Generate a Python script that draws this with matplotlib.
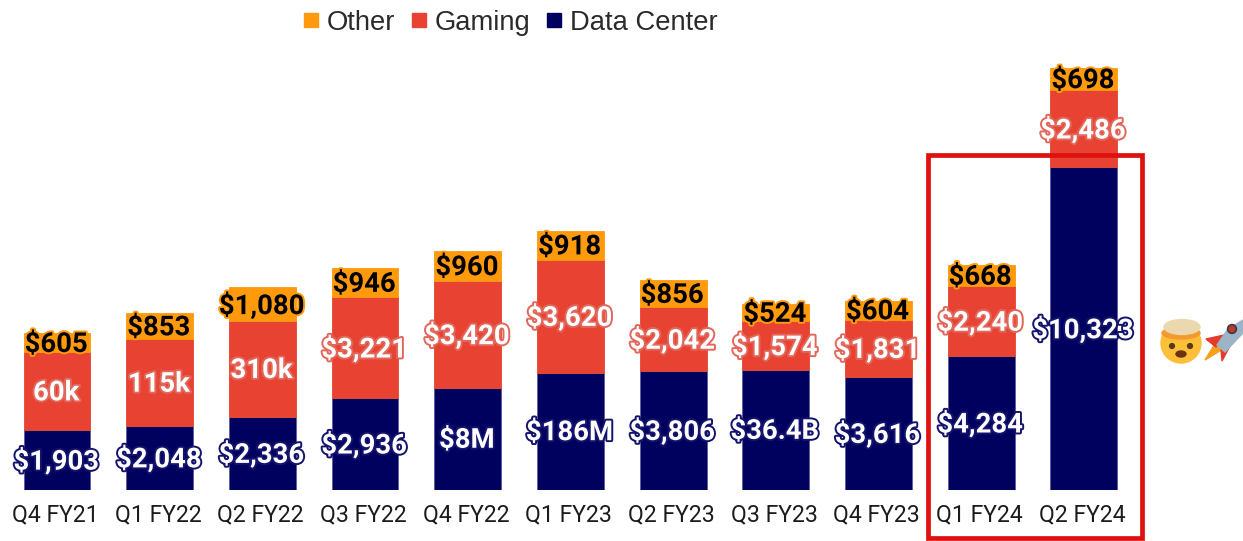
import matplotlib
matplotlib.use("Agg")
import matplotlib.pyplot as plt
import matplotlib.patheffects as pe
from matplotlib.patches import Rectangle, Circle, Polygon, Ellipse
from matplotlib.lines import Line2D
from matplotlib.transforms import Affine2D, ScaledTranslation

quarters = ["Q4 FY21", "Q1 FY22", "Q2 FY22", "Q3 FY22", "Q4 FY22", "Q1 FY23",
            "Q2 FY23", "Q3 FY23", "Q4 FY23", "Q1 FY24", "Q2 FY24"]
data_center = [1903, 2048, 2336, 2936, 3263, 3750, 3806, 3833, 3616, 4284, 10323]
gaming = [2495, 2760, 3061, 3221, 3420, 3620, 2042, 1574, 1831, 2240, 2486]
other = [605, 853, 1080, 946, 960, 918, 856, 524, 604, 668, 698]
dc_labels = ["$1,903", "$2,048", "$2,336", "$2,936", "$8M", "$186M", "$3,806", "$36.4B",
             "$3,616", "$4,284", "$10,323"]
gaming_labels = ["60k", "115k", "310k", "$3,221", "$3,420", "$3,620", "$2,042", "$1,574",
                 "$1,831", "$2,240", "$2,486"]
other_labels = ["$605", "$853", "$1,080", "$946", "$960", "$918", "$856", "$524", "$604",
                "$668", "$698"]

NAVY = "#00005F"
RED = "#E84332"
ORANGE = "#FF9A0D"
W, H = 1243, 541

fig = plt.figure(figsize=(W / 100, H / 100), dpi=100, facecolor="white")
ax = fig.add_axes([0, (H - 489.5) / H, 1, 489.5 / H])
ax.set_xlim(-0.556, 11.55)
ax.set_ylim(0, 15690)
for s in ax.spines.values():
    s.set_visible(False)
ax.yaxis.set_visible(False)
ax.patch.set_alpha(0)

x = list(range(len(quarters)))
bottom2 = [a + b for a, b in zip(data_center, gaming)]
edge = dict(width=0.65, linewidth=0.6)
b1 = ax.bar(x, data_center, color=NAVY, edgecolor="#5a5aa0", label="Data Center", **edge)
b2 = ax.bar(x, gaming, bottom=data_center, color=RED, edgecolor=RED, label="Gaming", **edge)
b3 = ax.bar(x, other, bottom=bottom2, color=ORANGE, edgecolor=ORANGE, label="Other", **edge)

ax.set_xticks(x, quarters, family="Roboto", fontsize=16.6, color="#1c1c1c")
ax.tick_params(axis="x", length=0, pad=10)
shift = ScaledTranslation(-1.8 / 100, 0, fig.dpi_scale_trans)
for lab in ax.get_xticklabels():
    lab.set_transform(lab.get_transform() + shift)

def labels(container, texts, color, stroke):
    for t in ax.bar_label(container, labels=texts, label_type="center", color=color,
                          family="Roboto", fontweight="bold", fontsize=19.8, clip_on=False):
        t.set_zorder(6)
        t.xyann = (-0.7, -1.2)
        t.set_path_effects([pe.withStroke(linewidth=2.8, foreground=stroke)])

labels(b1, dc_labels, "white", "#14146e")
labels(b2, gaming_labels, "white", "#E2675A")
labels(b3, other_labels, "black", ORANGE)

handles = [Line2D([], [], ls="", marker="s", ms=10, color=c) for c in (ORANGE, RED, NAVY)]
fig.legend(handles, ["Other", "Gaming", "Data Center"], ncol=3, frameon=False,
           loc="center left", bbox_to_anchor=(297 / W, 1 - 22.5 / H),
           prop={"family": "Liberation Sans", "size": 19.7}, labelcolor="#2a2a2a",
           handletextpad=0.08, columnspacing=0.37, handlelength=1.0, borderpad=0, borderaxespad=0)

px = Affine2D().scale(1, -1).translate(0, H)

# highlight box
fig.add_artist(Rectangle((928, 155), 214, 383, transform=px, fill=False,
                         edgecolor="#DF1010", linewidth=3.4, zorder=8))

# mind-blown face
fig.add_artist(Circle((1181, 343), 20, transform=px, color="#FBBF3A", zorder=9))
fig.add_artist(Ellipse((1181, 333), 38, 12, transform=px, color="#F39A2E", zorder=10))
fig.add_artist(Ellipse((1182, 327), 36, 15, transform=px, color="#EBD8AE", zorder=11))
fig.add_artist(Circle((1172, 346), 2.4, transform=px, color="#5b3a1a", zorder=12))
fig.add_artist(Circle((1190, 346), 2.4, transform=px, color="#5b3a1a", zorder=12))
fig.add_artist(Ellipse((1181, 354), 10, 6, transform=px, color="#6b3312", zorder=12))

# rocket
fig.add_artist(Polygon([(1205, 360), (1216, 342), (1223, 349)], transform=px, color="#F9A01B", zorder=9))
fig.add_artist(Polygon([(1206, 339), (1224, 335), (1216, 347)], transform=px, color="#E53B2A", zorder=9))
fig.add_artist(Polygon([(1222, 361), (1232, 342), (1221, 350)], transform=px, color="#E53B2A", zorder=9))
fig.add_artist(Polygon([(1217, 345), (1228, 329), (1243, 320), (1243, 333), (1225, 352)],
                       transform=px, color="#9DB4C6", zorder=10))
fig.add_artist(Circle((1232, 329), 4.5, transform=px, color="#3a3a48", zorder=11))
fig.add_artist(Circle((1232, 329), 2.8, transform=px, color="#C0392B", zorder=12))

fig.savefig("out.png", dpi=100, facecolor="white")
